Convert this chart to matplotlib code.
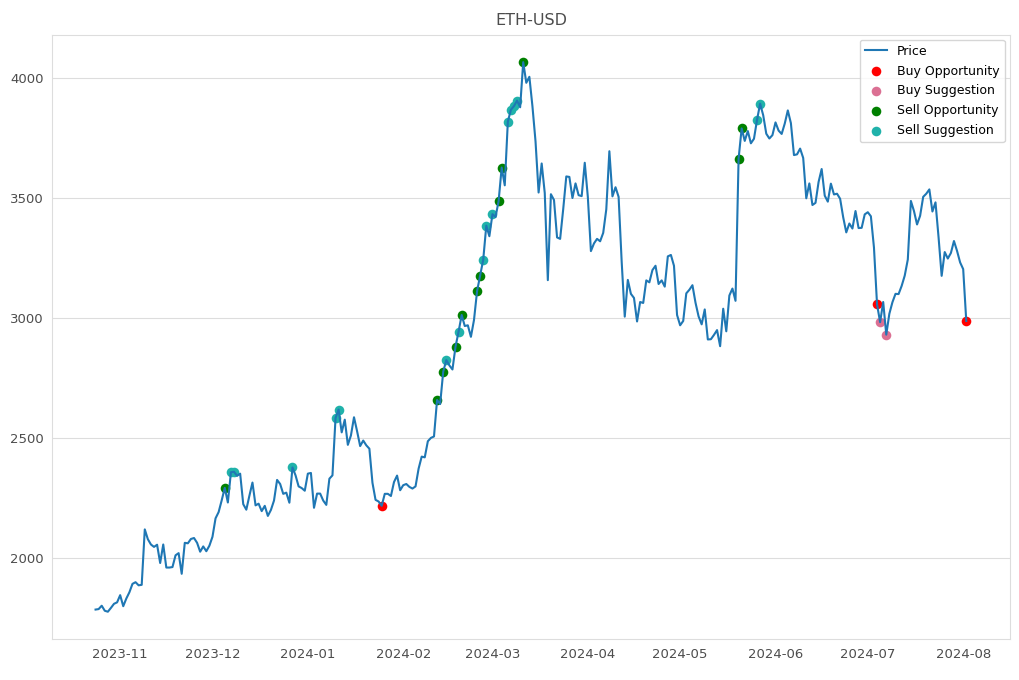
import matplotlib
matplotlib.use("Agg")
import matplotlib.pyplot as plt
import matplotlib.dates as mdates
import pandas as pd

# daily closing prices, ETH-USD
oct_23 = [1786, 1788, 1802, 1781, 1777, 1793, 1810, 1816]
nov_23 = [1846, 1800, 1832, 1858, 1893, 1900, 1887, 1889, 2120, 2079, 2057, 2047, 2056, 1980, 2057,
          1961, 1961, 1963, 2012, 2021, 1935, 2064, 2062, 2080, 2084, 2064, 2027, 2049, 2029, 2052]
dec_23 = [2089, 2166, 2192, 2241, 2293, 2232, 2358, 2360, 2343, 2352, 2225, 2202, 2260, 2315, 2220,
          2227, 2196, 2218, 2176, 2201, 2240, 2326, 2309, 2268, 2273, 2231, 2378, 2345, 2299, 2292, 2281]
jan_24 = [2352, 2355, 2210, 2269, 2269, 2240, 2222, 2331, 2345, 2584, 2619, 2524, 2577, 2472, 2511,
          2587, 2529, 2467, 2490, 2470, 2456, 2314, 2243, 2236, 2218, 2268, 2268, 2259, 2317, 2344, 2283]
feb_24 = [2304, 2309, 2297, 2290, 2299, 2373, 2423, 2420, 2487, 2501, 2507, 2659, 2642, 2777, 2825,
          2803, 2786, 2881, 2944, 3013, 2967, 2970, 2922, 2992, 3112, 3177, 3243, 3385, 3341]
mar_24 = [3433, 3421, 3487, 3627, 3553, 3818, 3868, 3883, 3906, 3878, 4066, 3980, 4005, 3882, 3736,
          3523, 3644, 3521, 3158, 3516, 3492, 3336, 3330, 3454, 3590, 3588, 3500, 3561, 3512, 3508, 3647]
apr_24 = [3505, 3279, 3311, 3330, 3320, 3355, 3453, 3695, 3507, 3545, 3505, 3235, 3006, 3159, 3101,
          3084, 2986, 3067, 3063, 3157, 3149, 3200, 3218, 3142, 3157, 3131, 3257, 3263, 3218, 3013]
may_24 = [2970, 2988, 3103, 3118, 3137, 3064, 3007, 2974, 3036, 2911, 2912, 2930, 2950, 2883, 3039,
          2945, 3094, 3123, 3072, 3664, 3790, 3738, 3779, 3728, 3747, 3826, 3893, 3845, 3768, 3748, 3762]
jun_24 = [3815, 3781, 3767, 3810, 3865, 3812, 3679, 3682, 3706, 3667, 3499, 3561, 3471, 3480, 3567,
          3621, 3510, 3485, 3560, 3515, 3518, 3497, 3420, 3357, 3394, 3373, 3446, 3375, 3376, 3432]
jul_24 = [3441, 3424, 3294, 3057, 2983, 3067, 2931, 3018, 3066, 3101, 3100, 3134, 3177, 3244, 3488,
          3446, 3390, 3426, 3505, 3518, 3536, 3444, 3482, 3336, 3176, 3275, 3248, 3271, 3321, 3280, 3232]
aug_24 = [3204, 2988]

# signal dates
buy_opportunity = ["2024-01-25", "2024-07-04", "2024-08-02"]
buy_suggestion = ["2024-07-05", "2024-07-07"]
sell_opportunity = ["2023-12-05", "2024-02-12", "2024-02-14", "2024-02-18", "2024-02-20", "2024-02-25",
                    "2024-02-26", "2024-03-03", "2024-03-04", "2024-03-11", "2024-05-20", "2024-05-21"]
sell_suggestion = ["2023-12-07", "2023-12-08", "2023-12-27", "2024-01-10", "2024-01-11", "2024-02-15",
                   "2024-02-19", "2024-02-27", "2024-02-28", "2024-03-01", "2024-03-06", "2024-03-07",
                   "2024-03-08", "2024-03-09", "2024-05-26", "2024-05-27"]

prices = oct_23 + nov_23 + dec_23 + jan_24 + feb_24 + mar_24 + apr_24 + may_24 + jun_24 + jul_24 + aug_24
dates = pd.date_range("2023-10-24", periods=len(prices), freq="D")
price = pd.Series(prices, index=dates)

fig = plt.figure(figsize=(10.2, 6.8), dpi=100)
ax = fig.add_axes([0.051, 0.06, 0.939, 0.889])

ax.plot(price.index, price.values, color="#1f77b4", lw=1.5, label="Price")

signals = [
    (buy_opportunity, "red", "Buy Opportunity"),
    (buy_suggestion, "palevioletred", "Buy Suggestion"),
    (sell_opportunity, "green", "Sell Opportunity"),
    (sell_suggestion, "lightseagreen", "Sell Suggestion"),
]
for days, col, name in signals:
    idx = pd.to_datetime(days)
    ax.scatter(idx, price.loc[idx].values, s=48, color=col, linewidths=0, label=name)

ax.set_title("ETH-USD", fontsize=11.5, color="#4d4d4d", pad=7)
ax.xaxis.set_major_locator(mdates.MonthLocator())
ax.xaxis.set_major_formatter(mdates.DateFormatter("%Y-%m"))
ax.tick_params(labelsize=9.5, colors="#4d4d4d", length=0, pad=6)
ax.grid(axis="y", color="#dddddd", lw=0.8)
ax.set_axisbelow(True)
for sp in ax.spines.values():
    sp.set_color("#dddddd")

ax.legend(loc="upper right", fontsize=9, frameon=True, edgecolor="#cccccc",
          handlelength=1.8, borderaxespad=0.4, labelspacing=0.55)

fig.savefig("out.png", dpi=100)
